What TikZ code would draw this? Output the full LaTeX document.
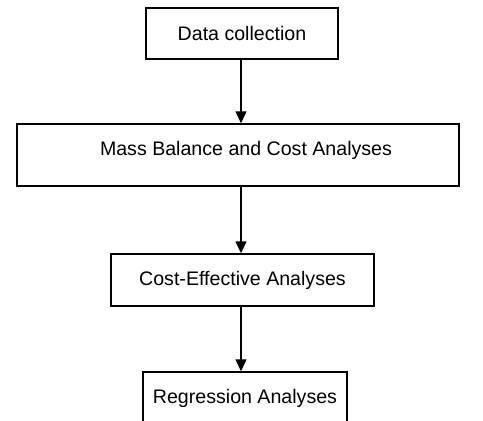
\documentclass[tikz,border=0pt]{standalone}
\usepackage{fontspec}
\setmainfont{Liberation Sans}
\usetikzlibrary{arrows.meta}
\begin{document}
\begin{tikzpicture}[x=1pt,y=-1pt,
  stepbox/.style={draw=black,line width=1.4pt,inner sep=0pt,
    font=\fontsize{19.6}{23}\selectfont},
  arr/.style={line width=1.4pt,-{Triangle[length=12pt,width=11pt]}}]
\useasboundingbox (0,0) rectangle (483,421);
\node[stepbox,minimum width=192pt,minimum height=51pt] (b1) at (242,33.5) {Data collection};
\node[stepbox,minimum width=442pt,minimum height=62pt] (b2) at (238,155) {};
\node (t2) at (246,150) {\fontsize{19.6}{23}\selectfont Mass Balance and Cost Analyses};
\node[stepbox,minimum width=263pt,minimum height=52pt] (b3) at (242.5,280) {Cost-Effective Analyses};
\node[stepbox,minimum width=204pt,minimum height=52pt] (b4) at (245,398) {Regression Analyses};
\coordinate (ax) at (241,0);
\draw[arr] (b1.south -| ax) -- (b2.north -| ax);
\draw[arr] (b2.south -| ax) -- (b3.north -| ax);
\draw[arr] (b3.south -| ax) -- (b4.north -| ax);
\end{tikzpicture}
\end{document}
